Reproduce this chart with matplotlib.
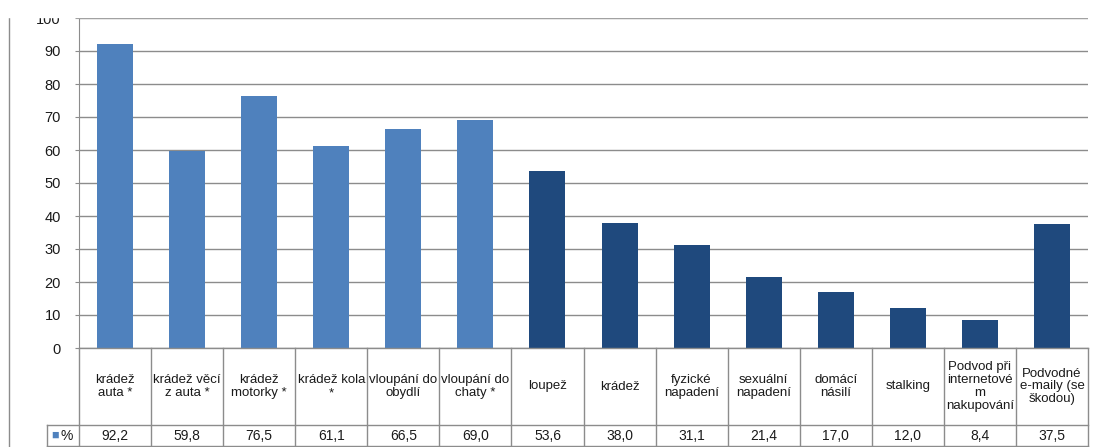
import matplotlib.pyplot as plt
import numpy as np

plt.rcParams['font.family'] = ['Liberation Sans', 'DejaVu Sans']

categories = [
    "krádež\nauta *", "krádež věcí\nz auta *", "krádež\nmotorky *", "krádež kola\n*",
    "vloupání do\nobydlí", "vloupání do\nchaty *", "loupež", "krádež",
    "fyzické\nnapadení", "sexuální\nnapadení", "domácí\nnásilí", "stalking",
    "Podvod při\ninternetové\nm\nnakupování", "Podvodné\ne-maily (se\nškodou)",
]
values = [92.2, 59.8, 76.5, 61.1, 66.5, 69.0, 53.6, 38.0, 31.1, 21.4, 17.0, 12.0, 8.4, 37.5]
household = [True] * 6 + [False] * 8
series_name = "%"

light_blue = "#4F81BD"
dark_blue = "#1F497D"
grid_color = "#8c8c8c"
text_color = "#1a1a1a"

W, H = 1097, 447
fig = plt.figure(figsize=(W / 100, H / 100), dpi=100)

x0, x1 = 79, 1088
y_top, y_zero, y_row, y_bot = 18, 348, 425, 446
n = len(values)

ax = fig.add_axes([x0 / W, 1 - y_zero / H, (x1 - x0) / W, (y_zero - y_top) / H])
x = np.arange(n)
colors = [light_blue if h else dark_blue for h in household]
ax.bar(x, values, width=0.5, color=colors, zorder=3)
ax.set_xlim(-0.5, n - 0.5)
ax.set_ylim(0, 100)
ax.set_yticks(np.arange(0, 101, 10))
ax.tick_params(axis='y', labelsize=10.5, length=3, color=grid_color, colors=text_color, pad=10)
ax.tick_params(axis='x', length=0, labelbottom=False)
ax.grid(axis='y', color=grid_color, linewidth=1, zorder=0)
for side in ['top', 'right', 'bottom']:
    ax.spines[side].set_visible(False)
ax.spines['left'].set_color(grid_color)

# data table under the bars
tx0 = 47
unit = (x1 - x0) / n
left_ext = -0.5 - (x0 - tx0) / unit
tab = fig.add_axes([tx0 / W, 1 - y_bot / H, (x1 - tx0) / W, (y_bot - y_zero) / H])
tab.set_xlim(left_ext, n - 0.5)
tab.set_ylim(0, 1)
tab.axis('off')
row_y = (y_bot - y_row) / (y_bot - y_zero)
lc = dict(color=grid_color, linewidth=1, clip_on=False)
for b in np.arange(-0.5, n, 1.0):
    tab.plot([b, b], [0, 1], **lc)
tab.plot([left_ext, left_ext], [0, row_y], **lc)
tab.plot([left_ext, n - 0.5], [row_y, row_y], **lc)
tab.plot([left_ext, n - 0.5], [0, 0], **lc)
tab.plot([-0.5, n - 0.5], [1, 1], **lc)

for i, (lab, v) in enumerate(zip(categories, values)):
    tab.text(i, (1 + row_y) / 2, lab, ha='center', va='center', fontsize=9.5,
             color=text_color, linespacing=1.1)
    tab.text(i, row_y / 2, f"{v:.1f}".replace('.', ','), ha='center', va='center',
             fontsize=10, color=text_color)

# legend key in the value row
tab.text(left_ext + 0.06, row_y / 2, "■", ha='left', va='center', fontsize=9, color=light_blue)
tab.text(left_ext + 0.19, row_y / 2, series_name, ha='left', va='center', fontsize=10, color=text_color)

# outer frame line on the left
fig.add_artist(plt.Line2D([9 / W, 9 / W], [0, 1 - y_top / H], color=grid_color, linewidth=1))
# top band of the page
fig.add_artist(plt.Rectangle((0, 1 - 17 / H), 1, 17 / H, color='white', zorder=10,
                             transform=fig.transFigure))

fig.savefig("out.png", dpi=100)
